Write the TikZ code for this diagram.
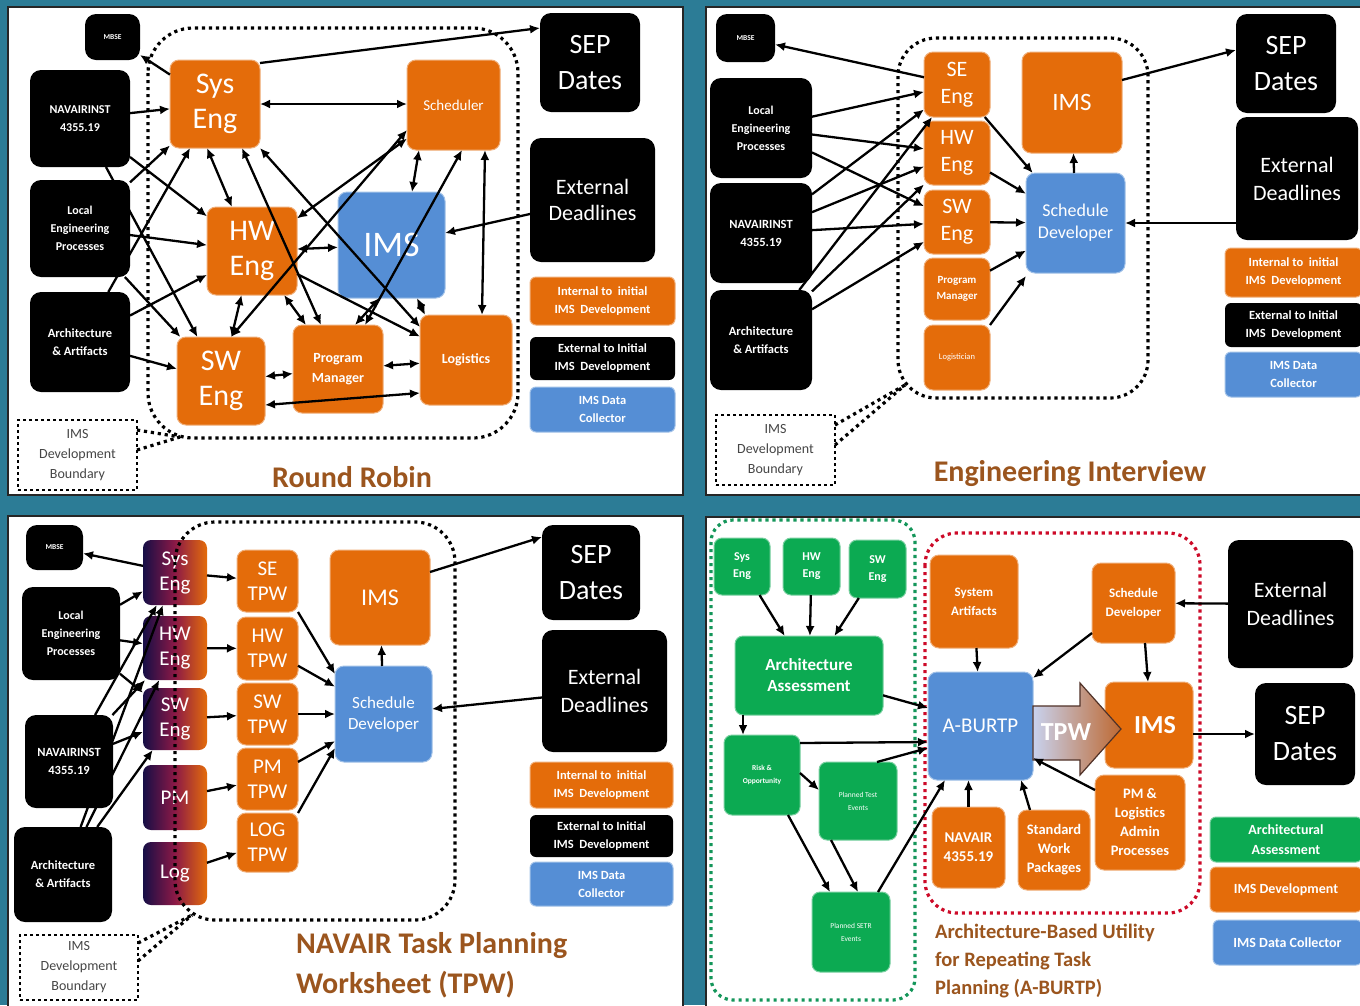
\documentclass[tikz,border=0pt]{standalone}
\usepackage{fontspec}
\setmainfont{Carlito}
\usetikzlibrary{arrows.meta,calc}
\definecolor{tealbg}{RGB}{44,124,150}
\definecolor{orgc}{RGB}{228,108,10}
\definecolor{bluc}{RGB}{85,142,213}
\definecolor{grnc}{RGB}{12,170,82}
\definecolor{navyc}{RGB}{22,14,70}
\definecolor{midc}{RGB}{140,25,70}
\definecolor{brownc}{RGB}{155,85,30}
\definecolor{txtg}{RGB}{70,70,70}
\definecolor{dgrn}{RGB}{20,150,90}
\definecolor{dred}{RGB}{205,10,40}
\newcommand\fs[2]{\fontsize{#1}{#2}\selectfont}
\newcommand\B[7]{%
  \pgfmathsetmacro\bxcx{(#3+#5)/2}%
  \pgfmathsetmacro\bxcy{(#4+#6)/2}%
  \pgfmathsetmacro\bxw{#5-#3}%
  \pgfmathsetmacro\bxh{#6-#4}%
  \node[#1, minimum width=\bxw pt, minimum height=\bxh pt] (#2) at (\bxcx,\bxcy) {#7};}
\begin{document}
\begin{tikzpicture}[x=1pt,y=-1pt,
 base/.style={inner sep=0pt, outer sep=0pt, align=center, text=white},
 blk/.style={base, fill=black, rounded corners=11pt},
 org/.style={base, fill=orgc, draw=orgc!55!white, line width=1pt, rounded corners=9pt},
 blu/.style={base, fill=bluc, draw=bluc!55!white, line width=1pt, rounded corners=9pt},
 grn/.style={base, fill=grnc, draw=grnc!55!white, line width=1pt, rounded corners=8pt},
 grd/.style={base, left color=navyc, right color=orgc, middle color=midc, rounded corners=8pt},
 legO/.style={org, rounded corners=6pt, font=\fs{12.5}{18}\bfseries},
 legK/.style={blk, rounded corners=6pt, font=\fs{12.5}{18}\bfseries},
 legB/.style={blu, rounded corners=6pt, font=\fs{12.5}{18}\bfseries},
 legG/.style={grn, rounded corners=6pt, font=\fs{14}{20}\bfseries},
 arr/.style={line width=2.3pt, -{Latex[length=10pt,width=9pt]}},
 darr/.style={line width=2.3pt, {Latex[length=10pt,width=9pt]}-{Latex[length=10pt,width=9pt]}},
 dotb/.style={line width=3.2pt, dash pattern=on 3.2pt off 3.8pt},
 lbl/.style={base, text=txtg, draw=black, line width=2.6pt, dash pattern=on 2.6pt off 3.4pt, font=\fs{14}{20}},
 ttl/.style={text=brownc, font=\fs{30}{40}\bfseries, inner sep=0pt, align=left}
]
\useasboundingbox (0,0) rectangle (1360,1005);
\fill[tealbg] (0,0) rectangle (1360,1005);
\filldraw[fill=white, draw=black!85, line width=2pt] (8,7) rectangle (683,495);
\filldraw[fill=white, draw=black!85, line width=2pt] (706,7) rectangle (1362,495);
\filldraw[fill=white, draw=black!85, line width=2pt] (8,516) rectangle (683,1008);
\filldraw[fill=white, draw=black!85, line width=2pt] (706,517) rectangle (1362,1008);

% ================= Q1 Round Robin
\draw[dotb, rounded corners=45pt] (148,28) rectangle (518,438);
\B{blk,font=\fs{7.5}{9}\bfseries}{a-mbse}{85}{14}{140}{60}{MBSE}
\B{blk,font=\fs{12}{18}\bfseries}{a-nav}{30}{70}{130}{167}{NAVAIRINST\\4355.19}
\B{blk,font=\fs{12}{18}\bfseries}{a-loc}{30}{180}{130}{277}{Local\\Engineering\\Processes}
\B{blk,font=\fs{12.5}{18}\bfseries}{a-arc}{30}{292}{130}{392}{Architecture\\\& Artifacts}
\B{org,font=\fs{30}{35}}{a-se}{170}{60}{260}{148}{Sys\\Eng}
\B{org,font=\fs{15}{18}}{a-sch}{407}{60}{500}{150}{Scheduler}
\B{org,font=\fs{30}{35}}{a-hw}{207}{207}{297}{295}{HW\\Eng}
\B{blu,font=\fs{36}{40}}{a-ims}{338}{192}{445}{298}{IMS}
\B{org,font=\fs{30}{35}}{a-sw}{177}{337}{265}{425}{SW\\Eng}
\B{org,font=\fs{14}{20}\bfseries}{a-pm}{293}{325}{383}{413}{Program\\Manager}
\B{org,font=\fs{14}{17}\bfseries}{a-log}{420}{315}{512}{405}{Logistics}
\B{blk,font=\fs{28}{36}}{a-sep}{540}{13}{640}{112}{SEP\\Dates}
\B{blk,font=\fs{22}{26}}{a-ext}{530}{138}{655}{262}{External\\Deadlines}
\B{legO}{a-l1}{530}{277}{675}{325}{Internal to\ \ initial\\IMS\ \ Development}
\B{legK}{a-l2}{530}{337}{675}{380}{External to Initial\\IMS\ \ Development}
\B{legB}{a-l3}{530}{387}{675}{432}{IMS Data\\Collector}
\B{lbl}{a-bl}{18}{420}{137}{490}{IMS\\Development\\Boundary}
\coordinate (a-bc) at (180,437);
\draw[dotb] ([yshift=-10pt]a-bl.north east) -- (a-bc);
\draw[dotb] ([yshift=-30pt]a-bl.north east) -- (a-bc);
\node[ttl] (a-t) at (352,477) {Round Robin};

\draw[arr] (a-se) -- (a-mbse);
\draw[arr] ([yshift=-3pt]a-se.north east) -- ([yshift=-15pt]a-sep.north west);
\draw[darr] (a-se.east) -- (a-sch.west |- a-se.east);
\draw[arr] (a-nav) -- (a-se);
\draw[arr] (a-nav) -- (a-hw);
\draw[arr] (a-nav) -- (a-sw);
\draw[arr] (a-loc) -- (a-se);
\draw[arr] (a-loc) -- (a-hw);
\draw[arr] (a-loc) -- (a-sw);
\draw[arr] (a-arc) -- (a-se);
\draw[arr] (a-arc) -- (a-hw);
\draw[arr] (a-arc) -- (a-sw);
\draw[darr] ([xshift=-8pt]a-se.south) -- ([xshift=-20pt]a-hw.north);
\draw[darr] ([xshift=-18pt]a-se.south east) -- ([xshift=28pt]a-pm.north west);
\draw[darr] (a-se.south east) -- ([yshift=-12pt]a-log.north west);
\draw[darr] (a-sch) -- (a-hw);
\draw[darr] ([xshift=10pt]a-sw.north) -- ([yshift=-70pt]a-sch.north west);
\draw[darr] (a-hw) -- (a-sw);
\draw[darr] (a-hw) -- (a-pm);
\draw[darr] (a-hw) -- (a-ims);
\draw[arr] (a-hw) -- (a-log);
\draw[darr] ([xshift=12pt]a-sch.south west) -- ([xshift=-33pt]a-ims.north east);
\draw[darr] ([xshift=-38pt]a-sch.south east) -- ([xshift=-18pt]a-pm.north east);
\draw[darr] ([xshift=-15pt]a-sch.south east) -- ([xshift=-30pt]a-log.north east);
\draw[arr] (a-ext) -- (a-ims);
\draw[darr] ([xshift=-12pt]a-ims.south) -- ([xshift=-28pt]a-pm.north east);
\draw[darr] ([xshift=-28pt]a-ims.south east) -- ([xshift=5pt]a-log.north west);
\draw[darr] (a-sw) -- (a-pm);
\draw[darr] (a-pm) -- (a-log);
\draw[darr] ([yshift=20pt]a-sw.south east) -- ([yshift=12pt]a-log.south west);

% ================= Q2 Engineering Interview
\draw[dotb, rounded corners=38pt] (898,38) rectangle (1148,398);
\B{blk,font=\fs{7.5}{9}\bfseries}{b-mbse}{716}{14}{775}{62}{MBSE}
\B{blk,font=\fs{12}{18}\bfseries}{b-loc}{710}{78}{812}{178}{Local\\Engineering\\Processes}
\B{blk,font=\fs{12.5}{18}\bfseries}{b-nav}{710}{183}{812}{283}{NAVAIRINST\\4355.19}
\B{blk,font=\fs{12.5}{18}\bfseries}{b-arc}{710}{290}{812}{390}{Architecture\\\& Artifacts}
\B{org,font=\fs{22}{27}}{b-se}{924}{52}{990}{117}{SE\\Eng}
\B{org,font=\fs{22}{27}}{b-hw}{924}{121}{990}{185}{HW\\Eng}
\B{org,font=\fs{22}{27}}{b-sw}{924}{190}{990}{254}{SW\\Eng}
\B{org,font=\fs{11}{16}\bfseries}{b-pm}{924}{258}{990}{320}{Program\\Manager}
\B{org,font=\fs{8.5}{10}}{b-lg}{924}{325}{990}{390}{Logistician}
\B{org,font=\fs{25}{28}}{b-ims}{1022}{52}{1122}{153}{IMS}
\B{blu,font=\fs{18}{22}}{b-sd}{1026}{173}{1125}{273}{Schedule\\Developer}
\B{blk,font=\fs{28}{36}}{b-sep}{1236}{14}{1336}{113}{SEP\\Dates}
\B{blk,font=\fs{22}{28}}{b-ext}{1236}{117}{1358}{240}{External\\Deadlines}
\B{legO}{b-l1}{1225}{248}{1362}{297}{Internal to\ \ initial\\IMS\ \ Development}
\B{legK}{b-l2}{1225}{303}{1362}{347}{External to Initial\\IMS\ \ Development}
\B{legB}{b-l3}{1225}{352}{1362}{397}{IMS Data\\Collector}
\B{lbl}{b-bl}{716}{415}{835}{485}{IMS\\Development\\Boundary}
\coordinate (b-bc) at (905,385);
\draw[dotb] ([yshift=-10pt]b-bl.north east) -- (b-bc);
\draw[dotb] ([yshift=-30pt]b-bl.north east) -- (b-bc);
\node[ttl] (b-t) at (1070,474) {Engineering Interview};

\draw[arr] (b-se) -- (b-mbse);
\foreach \s in {b-loc,b-nav,b-arc}{
  \foreach \t in {b-se,b-hw,b-sw}{\draw[arr] (\s) -- (\t);}}
\draw[arr] (b-se) -- (b-sd);
\draw[arr] (b-hw) -- (b-sd);
\draw[arr] (b-sw) -- (b-sd);
\draw[arr] (b-pm) -- (b-sd);
\draw[arr] (b-lg.north east) -- ([yshift=-3pt]b-sd.south west);
\draw[arr] (b-sd) -- (b-ims);
\draw[arr] ([yshift=-28pt]b-ims.north east) -- ([yshift=-36pt]b-sep.north west);
\draw[arr] (b-ext.west |- b-sd.east) -- (b-sd.east);

% ================= Q3 TPW
\B{blk,font=\fs{7.5}{9}\bfseries}{c-mbse}{26}{525}{83}{570}{MBSE}
\B{blk,font=\fs{12}{18}\bfseries}{c-loc}{22}{587}{120}{680}{Local\\Engineering\\Processes}
\B{blk,font=\fs{12.5}{18}\bfseries}{c-nav}{25}{715}{113}{808}{NAVAIRINST\\4355.19}
\B{blk,font=\fs{12.5}{18}\bfseries}{c-arc}{14}{827}{112}{922}{Architecture\\\& Artifacts}
\B{grd,font=\fs{21}{25}}{c-se}{143}{540}{207}{605}{Sys\\Eng}
\B{grd,font=\fs{21}{25}}{c-hw}{143}{616}{207}{680}{HW\\Eng}
\B{grd,font=\fs{21}{25}}{c-sw}{143}{688}{207}{750}{SW\\Eng}
\B{grd,font=\fs{21}{25}}{c-pm}{143}{765}{207}{830}{PM}
\B{grd,font=\fs{21}{25}}{c-lg}{143}{842}{207}{905}{Log}
\B{org,font=\fs{21}{25}}{c-t1}{237}{550}{298}{612}{SE\\TPW}
\B{org,font=\fs{21}{25}}{c-t2}{237}{617}{298}{680}{HW\\TPW}
\B{org,font=\fs{21}{25}}{c-t3}{237}{683}{298}{745}{SW\\TPW}
\B{org,font=\fs{21}{25}}{c-t4}{237}{748}{298}{810}{PM\\TPW}
\B{org,font=\fs{21}{25}}{c-t5}{237}{813}{298}{872}{LOG\\TPW}
\B{org,font=\fs{24}{28}}{c-ims}{330}{550}{430}{645}{IMS}
\B{blu,font=\fs{17}{21}}{c-sd}{335}{666}{432}{762}{Schedule\\Developer}
\B{blk,font=\fs{28}{36}}{c-sep}{542}{525}{640}{620}{SEP\\Dates}
\B{blk,font=\fs{22}{28}}{c-ext}{542}{630}{667}{752}{External\\Deadlines}
\B{legO}{c-l1}{530}{762}{673}{808}{Internal to\ \ initial\\IMS\ \ Development}
\B{legK}{c-l2}{530}{815}{673}{857}{External to Initial\\IMS\ \ Development}
\B{legB}{c-l3}{530}{862}{673}{906}{IMS Data\\Collector}
\B{lbl}{c-bl}{20}{935}{138}{1000}{IMS\\Development\\Boundary}
\draw[dotb, rounded corners=40pt] (175,522) rectangle (455,920);
\coordinate (c-bc) at (192,915);
\draw[dotb] ([yshift=-8pt]c-bl.north east) -- (c-bc);
\draw[dotb] ([yshift=-26pt]c-bl.north east) -- (c-bc);
\node[ttl, anchor=north west] (c-t) at (296,932) {NAVAIR Task Planning\\Worksheet (TPW)};

\draw[arr] (c-se) -- (c-mbse);
\foreach \s in {c-loc,c-nav,c-arc}{
  \foreach \t in {c-se,c-hw,c-sw}{\draw[arr] (\s) -- (\t);}}
\draw[arr] (c-se) -- (c-t1);
\draw[arr] (c-hw) -- (c-t2);
\draw[arr] (c-sw) -- (c-t3);
\draw[arr] (c-pm) -- (c-t4);
\draw[arr] (c-lg) -- (c-t5);
\draw[arr] (c-t1.south east) -- ([yshift=-8pt]c-sd.north west);
\draw[arr] (c-t2) -- (c-sd);
\draw[arr] (c-t3) -- (c-sd);
\draw[arr] (c-t4) -- (c-sd);
\draw[arr] (c-t5.north east) -- ([yshift=14pt]c-sd.south west);
\draw[arr] (c-sd) -- (c-ims);
\draw[arr] ([yshift=-22pt]c-ims.north east) -- ([yshift=-12pt]c-sep.north west);
\draw[arr] (c-ext) -- (c-sd);

% ================= Q4 A-BURTP
\draw[dotb, draw=dgrn, rounded corners=22pt] (711,520) rectangle (915,1000);
\draw[dotb, draw=dred, rounded corners=32pt] (925,533) rectangle (1200,913);
\B{grn,font=\fs{12}{17}\bfseries}{d-se}{714}{538}{770}{595}{Sys\\Eng}
\B{grn,font=\fs{12}{17}\bfseries}{d-hw}{783}{538}{840}{595}{HW\\Eng}
\B{grn,font=\fs{12}{17}\bfseries}{d-sw}{849}{540}{906}{598}{SW\\Eng}
\B{grn,font=\fs{17}{21}\bfseries}{d-aa}{735}{636}{883}{715}{Architecture\\Assessment}
\B{grn,font=\fs{7.5}{13}\bfseries}{d-ro}{724}{735}{800}{815}{Risk \&\\Opportunity}
\B{grn,font=\fs{7.5}{13}}{d-pt}{819}{762}{897}{840}{Planned Test\\Events}
\B{grn,font=\fs{7.5}{13}}{d-st}{812}{892}{890}{972}{Planned SETR\\Events}
\B{org,font=\fs{13}{19}\bfseries}{d-sa}{930}{555}{1018}{648}{System\\Artifacts}
\B{org,font=\fs{13}{19}\bfseries}{d-sd}{1092}{563}{1175}{643}{Schedule\\Developer}
\B{blu,font=\fs{21}{24}}{d-ab}{928}{672}{1033}{780}{A-BURTP}
\B{org,font=\fs{26}{30}\bfseries}{d-ims}{1105}{682}{1193}{768}{\hspace*{12pt}IMS}
\B{org,font=\fs{15}{19}\bfseries}{d-nv}{932}{807}{1005}{888}{NAVAIR\\4355.19}
\B{org,font=\fs{14.5}{19}\bfseries}{d-wp}{1018}{810}{1090}{890}{Standard\\Work\\Packages}
\B{org,font=\fs{14.5}{19}\bfseries}{d-pm}{1095}{775}{1185}{870}{PM \&\\Logistics\\Admin\\Processes}
\B{blk,font=\fs{22}{28}}{d-ext}{1228}{540}{1353}{668}{External\\Deadlines}
\B{blk,font=\fs{28}{36}}{d-sep}{1255}{683}{1355}{785}{SEP\\Dates}
\B{legG}{d-l1}{1210}{817}{1362}{862}{Architectural\\Assessment}
\B{org,rounded corners=6pt,font=\fs{14}{18}\bfseries}{d-l2}{1210}{867}{1362}{912}{IMS Development}
\B{blu,rounded corners=6pt,font=\fs{14}{18}\bfseries}{d-l3}{1213}{920}{1362}{965}{IMS Data Collector}
\node[ttl, font=\fs{20.5}{28}\bfseries, anchor=north west] (d-t) at (935,924) {Architecture-Based Utility\\for Repeating Task\\Planning (A-BURTP)};

\shade[left color={rgb,255:red,200;green,210;blue,238}, right color={rgb,255:red,190;green,105;blue,50}, draw={rgb,255:red,80;green,50;blue,40}, line width=1.2pt]
  (1033,706) -- (1080,706) -- (1080,683) -- (1121,729) -- (1080,775) -- (1080,760) -- (1033,760) -- cycle;
\node[text=white, font=\fs{26}{30}\bfseries, inner sep=0pt] (d-tpw) at (1066,732) {TPW};

\draw[arr] (d-se) -- (d-aa);
\draw[arr] (d-hw) -- (d-aa);
\draw[arr] (d-sw) -- (d-aa);
\draw[arr] (d-aa.-15) -- (d-ab.161);
\draw[arr] ([xshift=8pt]d-aa.south west) -- ([xshift=19pt]d-ro.north west);
\draw[arr] ([yshift=-8pt]d-ro.north east) -- ([yshift=-70pt]d-ab.north west);
\draw[arr] ([xshift=-20pt]d-pt.north east) -- ([yshift=-76pt]d-ab.north west);
\draw[arr] ([yshift=-38pt]d-ro.north east) -- ([yshift=-28pt]d-pt.north west);
\draw[arr] ([xshift=-12pt]d-ro.south east) -- ([xshift=18pt]d-st.north west);
\draw[arr] ([xshift=12pt]d-pt.south west) -- ([xshift=46pt]d-st.north west);
\draw[arr] ([xshift=-12pt]d-st.north east) -- ([xshift=17pt]d-ab.south west);
\draw[arr] (d-sa) -- (d-ab);
\draw[arr] ([yshift=10pt]d-sd.south west) -- ([yshift=-6pt]d-ab.north east);
\draw[arr] ([xshift=-30pt]d-sd.south east) -- ([xshift=-45pt]d-ims.north east);
\draw[arr] (d-ext) -- (d-sd);
\draw[arr] (d-ims.east |- d-sep.west) -- (d-sep.west);
\draw[arr] (d-nv.north) -- (d-ab.south -| d-nv.north);
\draw[arr] ([xshift=12pt]d-wp.north west) -- ([xshift=-12pt]d-ab.south east);
\draw[arr] ([yshift=-15pt]d-pm.north west) -- ([yshift=22pt]d-ab.south east);
\end{tikzpicture}
\end{document}
